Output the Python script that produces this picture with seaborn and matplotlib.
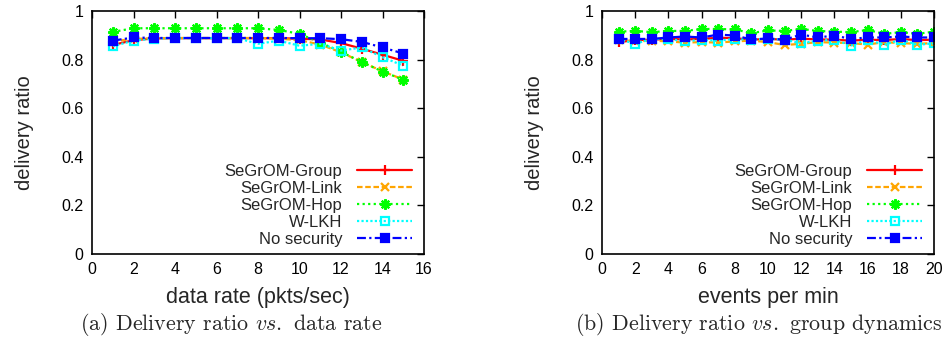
import numpy as np
import pandas as pd
import matplotlib
matplotlib.use("Agg")
import matplotlib.pyplot as plt
import seaborn as sns

# ---------------- data ----------------
series_names = ["SeGrOM-Group", "SeGrOM-Link", "SeGrOM-Hop", "W-LKH", "No security"]

rate_x = [1, 2, 3, 4, 5, 6, 7, 8, 9, 10, 11, 12, 13, 14, 15]
rate_group = [0.860, 0.880, 0.887, 0.888, 0.888, 0.888, 0.888, 0.888, 0.888, 0.886, 0.883, 0.868, 0.845, 0.820, 0.795]
rate_link = [0.875, 0.885, 0.888, 0.889, 0.889, 0.889, 0.889, 0.889, 0.886, 0.880, 0.862, 0.830, 0.790, 0.752, 0.718]
rate_hop = [0.914, 0.929, 0.929, 0.929, 0.929, 0.929, 0.929, 0.929, 0.922, 0.906, 0.870, 0.832, 0.790, 0.751, 0.717]
rate_wlkh = [0.855, 0.878, 0.886, 0.888, 0.888, 0.888, 0.888, 0.865, 0.878, 0.857, 0.865, 0.837, 0.850, 0.810, 0.775]
rate_nosec = [0.878, 0.891, 0.889, 0.889, 0.889, 0.889, 0.889, 0.889, 0.889, 0.888, 0.888, 0.884, 0.873, 0.850, 0.825]

ev_x = list(range(1, 21))
ev_group = [0.872, 0.880, 0.882, 0.885, 0.883, 0.885, 0.890, 0.888, 0.882, 0.885, 0.882, 0.886, 0.883, 0.882, 0.878, 0.882, 0.880, 0.885, 0.880, 0.882]
ev_link = [0.880, 0.875, 0.878, 0.875, 0.870, 0.872, 0.870, 0.875, 0.878, 0.872, 0.860, 0.865, 0.872, 0.870, 0.868, 0.862, 0.872, 0.868, 0.865, 0.868]
ev_hop = [0.915, 0.918, 0.913, 0.918, 0.918, 0.926, 0.926, 0.924, 0.909, 0.920, 0.918, 0.926, 0.918, 0.915, 0.913, 0.922, 0.906, 0.913, 0.906, 0.915]
ev_wlkh = [0.885, 0.865, 0.885, 0.885, 0.875, 0.882, 0.878, 0.885, 0.882, 0.885, 0.882, 0.867, 0.878, 0.882, 0.858, 0.882, 0.861, 0.882, 0.861, 0.867]
ev_nosec = [0.885, 0.885, 0.885, 0.891, 0.895, 0.891, 0.903, 0.899, 0.883, 0.887, 0.882, 0.903, 0.891, 0.899, 0.885, 0.891, 0.891, 0.895, 0.891, 0.891]

x_ticks_a = [0, 2, 4, 6, 8, 10, 12, 14, 16]
x_ticks_b = [0, 2, 4, 6, 8, 10, 12, 14, 16, 18, 20]
y_ticks = [0, 0.2, 0.4, 0.6, 0.8, 1]
y_tick_labels = ["0", "0.2", "0.4", "0.6", "0.8", "1"]

xlabel_a = "data rate (pkts/sec)"
xlabel_b = "events per min"
ylabel = "delivery ratio"
caption_a = r"(a) Delivery ratio $\mathit{vs.}$ data rate"
caption_b = r"(b) Delivery ratio $\mathit{vs.}$ group dynamics"

# ---------------- styling ----------------
sns.set_theme(style="white")
plt.rcParams["font.family"] = ["Liberation Sans", "DejaVu Sans"]
plt.rcParams["mathtext.fontset"] = "cm"

styles = {
    "SeGrOM-Group": dict(color="#ff0000", ls="-", marker="+", ms=7, mfc="#ff0000", mec="#ff0000"),
    "SeGrOM-Link": dict(color="#ffa500", ls=(0, (2.5, 1.2)), marker="x", ms=5.5, mfc="#ffa500", mec="#ffa500"),
    "SeGrOM-Hop": dict(color="#00ff00", ls=(0, (1, 1.5)), marker=(8, 2, 0), ms=7.5, mfc="#00ff00", mec="#00ff00"),
    "W-LKH": dict(color="#00ffff", ls=(0, (1, 1)), marker="s", ms=6, mfc="none", mec="#00ffff"),
    "No security": dict(color="#0000ff", ls=(0, (4, 1.5, 1, 1.5)), marker="s", ms=6.2, mfc="#0000ff", mec="#0000ff"),
}

fig = plt.figure(figsize=(9.48, 3.43), dpi=100)
W, H = 948, 343
ax_a = fig.add_axes([92 / W, 1 - 254 / H, (424 - 92) / W, (254 - 11) / H])
ax_b = fig.add_axes([602 / W, 1 - 254 / H, (934 - 602) / W, (254 - 11) / H])


def draw(ax, xs, ys_list, xlim, xticks, xlabel):
    rows = []
    for name, ys in zip(series_names, ys_list):
        for xv, yv in zip(xs, ys):
            rows.append({"x": xv, "y": yv, "series": name})
    df = pd.DataFrame(rows)
    for name in series_names:
        st = styles[name]
        sub = df[df["series"] == name]
        sns.lineplot(data=sub, x="x", y="y", ax=ax, color=st["color"], linestyle=st["ls"],
                     linewidth=1.6, marker=st["marker"], markersize=st["ms"],
                     markerfacecolor=st["mfc"], markeredgecolor=st["mec"], markeredgewidth=1.6,
                     label=name, sort=False, errorbar=None)
    ax.set_xlim(*xlim)
    ax.set_ylim(0, 1)
    ax.set_xticks(xticks)
    ax.set_xticklabels([str(t) for t in xticks])
    ax.set_yticks(y_ticks)
    ax.set_yticklabels(y_tick_labels)
    ax.tick_params(axis="both", which="both", direction="in", length=5, width=1,
                   top=True, right=True, labelsize=11.5, colors="black", pad=6)
    ax.set_xlabel(xlabel, fontsize=15.5, labelpad=7)
    ax.set_ylabel(ylabel, fontsize=14.5, labelpad=20)
    for s in ax.spines.values():
        s.set_color("black")
        s.set_linewidth(1.2)
    ax.set_facecolor("white")
    leg = ax.legend(loc="lower right", frameon=False, markerfirst=False, fontsize=12,
                    handlelength=3.3, handletextpad=0.9, labelspacing=0.12,
                    borderaxespad=0.0, bbox_to_anchor=(0.985, 0.0))
    for t in leg.get_texts():
        t.set_ha("right")
    return ax


draw(ax_a, rate_x, [rate_group, rate_link, rate_hop, rate_wlkh, rate_nosec], (0, 16), x_ticks_a, xlabel_a)
draw(ax_b, ev_x, [ev_group, ev_link, ev_hop, ev_wlkh, ev_nosec], (0, 20), x_ticks_b, xlabel_b)

fig.text(231 / W, 1 - 325 / H, caption_a, ha="center", va="center", fontsize=15.8, family="cmr10")
fig.text(759 / W, 1 - 325 / H, caption_b, ha="center", va="center", fontsize=15.8, family="cmr10")

fig.savefig("out.png", dpi=100, facecolor="white")
